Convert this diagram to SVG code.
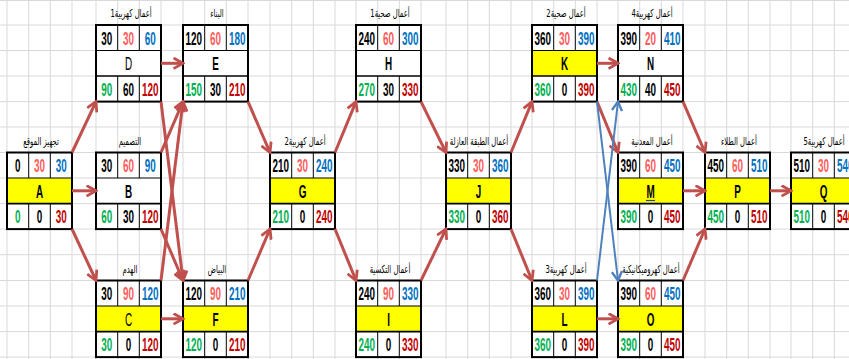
<svg xmlns="http://www.w3.org/2000/svg" width="849" height="359" viewBox="0 0 849 359">
<style>
.grid line{stroke:#d9d9d9;stroke-width:1}
.bx{fill:#fff;stroke:none}
.yl{fill:#ffff00}
.ol{fill:none;stroke:#000;stroke-width:2}
.il{stroke:#000;stroke-width:1}
.tl{stroke:#000;stroke-width:1.6}
text{font-family:"Liberation Sans",Arial,sans-serif;font-size:18px;font-weight:bold;text-anchor:middle}
.t{font-family:"DejaVu Sans","Noto Sans",sans-serif;font-size:11px;font-weight:normal;fill:#000}
.k{fill:#000}.d{fill:#ff5b5b}.e{fill:#0070c0}.g{fill:#00b050}.f{fill:#c00000}
.lt{font-weight:normal}
.cr{stroke:#c0504d;stroke-width:3;fill:none}
.cb{stroke:#4f81bd;stroke-width:2;fill:none}
</style>
<defs>
<marker id="ar" viewBox="0 0 10 10" refX="8.5" refY="5" markerWidth="4.2" markerHeight="4.2" orient="auto" markerUnits="strokeWidth">
<path d="M1,0.8 L8.5,5 L1,9.2" fill="none" stroke="#c0504d" stroke-width="2.2"/>
</marker>
<marker id="ab" viewBox="0 0 10 10" refX="8.5" refY="5" markerWidth="6" markerHeight="6" orient="auto" markerUnits="strokeWidth">
<path d="M1,0.8 L8.5,5 L1,9.2" fill="none" stroke="#4f81bd" stroke-width="2"/>
</marker>
</defs>
<rect x="0" y="0" width="849" height="359" fill="#fff"/>
<g class="grid">
<line x1="0" y1="0.5" x2="849" y2="0.5"/>
<line x1="0" y1="25" x2="849" y2="25"/>
<line x1="0" y1="50.5" x2="849" y2="50.5"/>
<line x1="0" y1="76" x2="849" y2="76"/>
<line x1="0" y1="101.6" x2="849" y2="101.6"/>
<line x1="0" y1="127" x2="849" y2="127"/>
<line x1="0" y1="152.5" x2="849" y2="152.5"/>
<line x1="0" y1="178" x2="849" y2="178"/>
<line x1="0" y1="203.6" x2="849" y2="203.6"/>
<line x1="0" y1="229" x2="849" y2="229"/>
<line x1="0" y1="254.7" x2="849" y2="254.7"/>
<line x1="0" y1="280.5" x2="849" y2="280.5"/>
<line x1="0" y1="306" x2="849" y2="306"/>
<line x1="0" y1="331.6" x2="849" y2="331.6"/>
<line x1="0" y1="357" x2="849" y2="357"/>
<line x1="7" y1="0" x2="7" y2="359"/><line x1="28.7" y1="0" x2="28.7" y2="359"/><line x1="50.3" y1="0" x2="50.3" y2="359"/><line x1="72" y1="0" x2="72" y2="359"/>
<line x1="96" y1="0" x2="96" y2="359"/><line x1="117.7" y1="0" x2="117.7" y2="359"/><line x1="139.3" y1="0" x2="139.3" y2="359"/><line x1="161" y1="0" x2="161" y2="359"/>
<line x1="183" y1="0" x2="183" y2="359"/><line x1="204.7" y1="0" x2="204.7" y2="359"/><line x1="226.3" y1="0" x2="226.3" y2="359"/><line x1="248" y1="0" x2="248" y2="359"/>
<line x1="270" y1="0" x2="270" y2="359"/><line x1="291.7" y1="0" x2="291.7" y2="359"/><line x1="313.3" y1="0" x2="313.3" y2="359"/><line x1="335" y1="0" x2="335" y2="359"/>
<line x1="356" y1="0" x2="356" y2="359"/><line x1="377.7" y1="0" x2="377.7" y2="359"/><line x1="399.3" y1="0" x2="399.3" y2="359"/><line x1="421" y1="0" x2="421" y2="359"/>
<line x1="446" y1="0" x2="446" y2="359"/><line x1="467.7" y1="0" x2="467.7" y2="359"/><line x1="489.3" y1="0" x2="489.3" y2="359"/><line x1="511" y1="0" x2="511" y2="359"/>
<line x1="532" y1="0" x2="532" y2="359"/><line x1="553.7" y1="0" x2="553.7" y2="359"/><line x1="575.3" y1="0" x2="575.3" y2="359"/><line x1="597" y1="0" x2="597" y2="359"/>
<line x1="618" y1="0" x2="618" y2="359"/><line x1="639.7" y1="0" x2="639.7" y2="359"/><line x1="661.3" y1="0" x2="661.3" y2="359"/><line x1="683" y1="0" x2="683" y2="359"/>
<line x1="705" y1="0" x2="705" y2="359"/><line x1="726.7" y1="0" x2="726.7" y2="359"/><line x1="748.3" y1="0" x2="748.3" y2="359"/><line x1="770" y1="0" x2="770" y2="359"/>
<line x1="791" y1="0" x2="791" y2="359"/><line x1="812.7" y1="0" x2="812.7" y2="359"/><line x1="834.3" y1="0" x2="834.3" y2="359"/>
</g>

<g id="node-A">
<rect class="bx" x="7" y="152.5" width="65" height="76.6"/>
<rect class="yl" x="7" y="178" width="65" height="25.6"/>
<line class="il" x1="28.7" y1="152.5" x2="28.7" y2="178"/><line class="il" x1="50.3" y1="152.5" x2="50.3" y2="178"/>
<line class="il" x1="28.7" y1="203.6" x2="28.7" y2="229"/><line class="il" x1="50.3" y1="203.6" x2="50.3" y2="229"/>
<line class="il" x1="7" y1="178" x2="72" y2="178"/><line class="tl" x1="7" y1="203.6" x2="72" y2="203.6"/>
<rect class="ol" x="7" y="152.5" width="65" height="76.6"/>
<text class="t" transform="translate(41,144.5) scale(0.62,1)">تجهيز الموقع</text>
<text class="k" transform="translate(17.8,172) scale(0.55,1)">0</text>
<text class="d" transform="translate(39.5,172) scale(0.55,1)">30</text>
<text class="e" transform="translate(61.2,172) scale(0.55,1)">30</text>
<text class="k" transform="translate(39.5,197.5) scale(0.55,1)">A</text>
<text class="g" transform="translate(17.8,223) scale(0.55,1)">0</text>
<text class="k" transform="translate(39.5,223) scale(0.55,1)">0</text>
<text class="f" transform="translate(61.2,223) scale(0.55,1)">30</text>
</g>

<g id="node-B">
<rect class="bx" x="96" y="152.5" width="65" height="76.6"/>
<line class="il" x1="117.7" y1="152.5" x2="117.7" y2="178"/><line class="il" x1="139.3" y1="152.5" x2="139.3" y2="178"/>
<line class="il" x1="117.7" y1="203.6" x2="117.7" y2="229"/><line class="il" x1="139.3" y1="203.6" x2="139.3" y2="229"/>
<line class="il" x1="96" y1="178" x2="161" y2="178"/><line class="tl" x1="96" y1="203.6" x2="161" y2="203.6"/>
<rect class="ol" x="96" y="152.5" width="65" height="76.6"/>
<text class="t" transform="translate(130,144.5) scale(0.62,1)">التصميم</text>
<text class="k" transform="translate(106.8,172) scale(0.55,1)">30</text>
<text class="d" transform="translate(128.5,172) scale(0.55,1)">60</text>
<text class="e" transform="translate(150.2,172) scale(0.55,1)">90</text>
<text class="k" transform="translate(128.5,197.5) scale(0.55,1)">B</text>
<text class="g" transform="translate(106.8,223) scale(0.55,1)">60</text>
<text class="k" transform="translate(128.5,223) scale(0.55,1)">30</text>
<text class="f" transform="translate(150.2,223) scale(0.55,1)">120</text>
</g>

<g id="node-C">
<rect class="bx" x="96" y="280.5" width="65" height="76.6"/>
<rect class="yl" x="96" y="306" width="65" height="25.6"/>
<line class="il" x1="117.7" y1="280.5" x2="117.7" y2="306"/><line class="il" x1="139.3" y1="280.5" x2="139.3" y2="306"/>
<line class="il" x1="117.7" y1="331.6" x2="117.7" y2="357"/><line class="il" x1="139.3" y1="331.6" x2="139.3" y2="357"/>
<line class="il" x1="96" y1="306" x2="161" y2="306"/><line class="tl" x1="96" y1="331.6" x2="161" y2="331.6"/>
<rect class="ol" x="96" y="280.5" width="65" height="76.6"/>
<text class="t" transform="translate(130,272.5) scale(0.62,1)">الهدم</text>
<text class="k" transform="translate(106.8,300) scale(0.55,1)">30</text>
<text class="d" transform="translate(128.5,300) scale(0.55,1)">90</text>
<text class="e" transform="translate(150.2,300) scale(0.55,1)">120</text>
<text class="k lt" transform="translate(128.5,325.5) scale(0.55,1)">C</text>
<text class="g" transform="translate(106.8,351) scale(0.55,1)">30</text>
<text class="k" transform="translate(128.5,351) scale(0.55,1)">0</text>
<text class="f" transform="translate(150.2,351) scale(0.55,1)">120</text>
</g>

<g id="node-D">
<rect class="bx" x="96" y="25" width="65" height="76.6"/>
<line class="il" x1="117.7" y1="25" x2="117.7" y2="50.5"/><line class="il" x1="139.3" y1="25" x2="139.3" y2="50.5"/>
<line class="il" x1="117.7" y1="76" x2="117.7" y2="101.6"/><line class="il" x1="139.3" y1="76" x2="139.3" y2="101.6"/>
<line class="il" x1="96" y1="50.5" x2="161" y2="50.5"/><line class="tl" x1="96" y1="76" x2="161" y2="76"/>
<rect class="ol" x="96" y="25" width="65" height="76.6"/>
<text class="t" transform="translate(131,17) scale(0.62,1)">أعمال كهربية1</text>
<text class="k" transform="translate(106.8,44.5) scale(0.55,1)">30</text>
<text class="d" transform="translate(128.5,44.5) scale(0.55,1)">30</text>
<text class="e" transform="translate(150.2,44.5) scale(0.55,1)">60</text>
<text class="k lt" transform="translate(128.5,70) scale(0.55,1)">D</text>
<text class="g" transform="translate(106.8,95.5) scale(0.55,1)">90</text>
<text class="k" transform="translate(128.5,95.5) scale(0.55,1)">60</text>
<text class="f" transform="translate(150.2,95.5) scale(0.55,1)">120</text>
</g>

<g id="node-E">
<rect class="bx" x="183" y="25" width="65" height="76.6"/>
<line class="il" x1="204.7" y1="25" x2="204.7" y2="50.5"/><line class="il" x1="226.3" y1="25" x2="226.3" y2="50.5"/>
<line class="il" x1="204.7" y1="76" x2="204.7" y2="101.6"/><line class="il" x1="226.3" y1="76" x2="226.3" y2="101.6"/>
<line class="il" x1="183" y1="50.5" x2="248" y2="50.5"/><line class="tl" x1="183" y1="76" x2="248" y2="76"/>
<rect class="ol" x="183" y="25" width="65" height="76.6"/>
<text class="t" transform="translate(217,17) scale(0.62,1)">البناء</text>
<text class="k" transform="translate(193.8,44.5) scale(0.55,1)">120</text>
<text class="d" transform="translate(215.5,44.5) scale(0.55,1)">60</text>
<text class="e" transform="translate(237.2,44.5) scale(0.55,1)">180</text>
<text class="k" transform="translate(215.5,70) scale(0.55,1)">E</text>
<text class="g" transform="translate(193.8,95.5) scale(0.55,1)">150</text>
<text class="k" transform="translate(215.5,95.5) scale(0.55,1)">30</text>
<text class="f" transform="translate(237.2,95.5) scale(0.55,1)">210</text>
</g>

<g id="node-F">
<rect class="bx" x="183" y="280.5" width="65" height="76.6"/>
<rect class="yl" x="183" y="306" width="65" height="25.6"/>
<line class="il" x1="204.7" y1="280.5" x2="204.7" y2="306"/><line class="il" x1="226.3" y1="280.5" x2="226.3" y2="306"/>
<line class="il" x1="204.7" y1="331.6" x2="204.7" y2="357"/><line class="il" x1="226.3" y1="331.6" x2="226.3" y2="357"/>
<line class="il" x1="183" y1="306" x2="248" y2="306"/><line class="tl" x1="183" y1="331.6" x2="248" y2="331.6"/>
<rect class="ol" x="183" y="280.5" width="65" height="76.6"/>
<text class="t" transform="translate(217,272.5) scale(0.62,1)">البياض</text>
<text class="k" transform="translate(193.8,300) scale(0.55,1)">120</text>
<text class="d" transform="translate(215.5,300) scale(0.55,1)">90</text>
<text class="e" transform="translate(237.2,300) scale(0.55,1)">210</text>
<text class="k" transform="translate(215.5,325.5) scale(0.55,1)">F</text>
<text class="g" transform="translate(193.8,351) scale(0.55,1)">120</text>
<text class="k" transform="translate(215.5,351) scale(0.55,1)">0</text>
<text class="f" transform="translate(237.2,351) scale(0.55,1)">210</text>
</g>

<g id="node-G">
<rect class="bx" x="270" y="152.5" width="65" height="76.6"/>
<rect class="yl" x="270" y="178" width="65" height="25.6"/>
<line class="il" x1="291.7" y1="152.5" x2="291.7" y2="178"/><line class="il" x1="313.3" y1="152.5" x2="313.3" y2="178"/>
<line class="il" x1="291.7" y1="203.6" x2="291.7" y2="229"/><line class="il" x1="313.3" y1="203.6" x2="313.3" y2="229"/>
<line class="il" x1="270" y1="178" x2="335" y2="178"/><line class="tl" x1="270" y1="203.6" x2="335" y2="203.6"/>
<rect class="ol" x="270" y="152.5" width="65" height="76.6"/>
<text class="t" transform="translate(305,144.5) scale(0.62,1)">أعمال كهربية2</text>
<text class="k" transform="translate(280.8,172) scale(0.55,1)">210</text>
<text class="d" transform="translate(302.5,172) scale(0.55,1)">30</text>
<text class="e" transform="translate(324.2,172) scale(0.55,1)">240</text>
<text class="k" transform="translate(302.5,197.5) scale(0.55,1)">G</text>
<text class="g" transform="translate(280.8,223) scale(0.55,1)">210</text>
<text class="k" transform="translate(302.5,223) scale(0.55,1)">0</text>
<text class="f" transform="translate(324.2,223) scale(0.55,1)">240</text>
</g>

<g id="node-H">
<rect class="bx" x="356" y="25" width="65" height="76.6"/>
<line class="il" x1="377.7" y1="25" x2="377.7" y2="50.5"/><line class="il" x1="399.3" y1="25" x2="399.3" y2="50.5"/>
<line class="il" x1="377.7" y1="76" x2="377.7" y2="101.6"/><line class="il" x1="399.3" y1="76" x2="399.3" y2="101.6"/>
<line class="il" x1="356" y1="50.5" x2="421" y2="50.5"/><line class="tl" x1="356" y1="76" x2="421" y2="76"/>
<rect class="ol" x="356" y="25" width="65" height="76.6"/>
<text class="t" transform="translate(390,17) scale(0.62,1)">أعمال صحية1</text>
<text class="k" transform="translate(366.8,44.5) scale(0.55,1)">240</text>
<text class="d" transform="translate(388.5,44.5) scale(0.55,1)">60</text>
<text class="e" transform="translate(410.2,44.5) scale(0.55,1)">300</text>
<text class="k" transform="translate(388.5,70) scale(0.55,1)">H</text>
<text class="g" transform="translate(366.8,95.5) scale(0.55,1)">270</text>
<text class="k" transform="translate(388.5,95.5) scale(0.55,1)">30</text>
<text class="f" transform="translate(410.2,95.5) scale(0.55,1)">330</text>
</g>

<g id="node-I">
<rect class="bx" x="356" y="280.5" width="65" height="76.6"/>
<rect class="yl" x="356" y="306" width="65" height="25.6"/>
<line class="il" x1="377.7" y1="280.5" x2="377.7" y2="306"/><line class="il" x1="399.3" y1="280.5" x2="399.3" y2="306"/>
<line class="il" x1="377.7" y1="331.6" x2="377.7" y2="357"/><line class="il" x1="399.3" y1="331.6" x2="399.3" y2="357"/>
<line class="il" x1="356" y1="306" x2="421" y2="306"/><line class="tl" x1="356" y1="331.6" x2="421" y2="331.6"/>
<rect class="ol" x="356" y="280.5" width="65" height="76.6"/>
<text class="t" transform="translate(390,272.5) scale(0.62,1)">أعمال التكسية</text>
<text class="k" transform="translate(366.8,300) scale(0.55,1)">240</text>
<text class="d" transform="translate(388.5,300) scale(0.55,1)">90</text>
<text class="e" transform="translate(410.2,300) scale(0.55,1)">330</text>
<text class="k" transform="translate(388.5,325.5) scale(0.55,1)">I</text>
<text class="g" transform="translate(366.8,351) scale(0.55,1)">240</text>
<text class="k" transform="translate(388.5,351) scale(0.55,1)">0</text>
<text class="f" transform="translate(410.2,351) scale(0.55,1)">330</text>
</g>

<g id="node-J">
<rect class="bx" x="446" y="152.5" width="65" height="76.6"/>
<rect class="yl" x="446" y="178" width="65" height="25.6"/>
<line class="il" x1="467.7" y1="152.5" x2="467.7" y2="178"/><line class="il" x1="489.3" y1="152.5" x2="489.3" y2="178"/>
<line class="il" x1="467.7" y1="203.6" x2="467.7" y2="229"/><line class="il" x1="489.3" y1="203.6" x2="489.3" y2="229"/>
<line class="il" x1="446" y1="178" x2="511" y2="178"/><line class="tl" x1="446" y1="203.6" x2="511" y2="203.6"/>
<rect class="ol" x="446" y="152.5" width="65" height="76.6"/>
<text class="t" transform="translate(479,144.5) scale(0.62,1)">أعمال الطبقة العازلة</text>
<text class="k" transform="translate(456.8,172) scale(0.55,1)">330</text>
<text class="d" transform="translate(478.5,172) scale(0.55,1)">30</text>
<text class="e" transform="translate(500.2,172) scale(0.55,1)">360</text>
<text class="k" transform="translate(478.5,197.5) scale(0.55,1)">J</text>
<text class="g" transform="translate(456.8,223) scale(0.55,1)">330</text>
<text class="k" transform="translate(478.5,223) scale(0.55,1)">0</text>
<text class="f" transform="translate(500.2,223) scale(0.55,1)">360</text>
</g>

<g id="node-K">
<rect class="bx" x="532" y="25" width="65" height="76.6"/>
<rect class="yl" x="532" y="50.5" width="65" height="25.5"/>
<line class="il" x1="553.7" y1="25" x2="553.7" y2="50.5"/><line class="il" x1="575.3" y1="25" x2="575.3" y2="50.5"/>
<line class="il" x1="553.7" y1="76" x2="553.7" y2="101.6"/><line class="il" x1="575.3" y1="76" x2="575.3" y2="101.6"/>
<line class="il" x1="532" y1="50.5" x2="597" y2="50.5"/><line class="tl" x1="532" y1="76" x2="597" y2="76"/>
<rect class="ol" x="532" y="25" width="65" height="76.6"/>
<text class="t" transform="translate(566,17) scale(0.62,1)">أعمال صحية2</text>
<text class="k" transform="translate(542.8,44.5) scale(0.55,1)">360</text>
<text class="d" transform="translate(564.5,44.5) scale(0.55,1)">30</text>
<text class="e" transform="translate(586.2,44.5) scale(0.55,1)">390</text>
<text class="k" transform="translate(564.5,70) scale(0.55,1)">K</text>
<text class="g" transform="translate(542.8,95.5) scale(0.55,1)">360</text>
<text class="k" transform="translate(564.5,95.5) scale(0.55,1)">0</text>
<text class="f" transform="translate(586.2,95.5) scale(0.55,1)">390</text>
</g>

<g id="node-L">
<rect class="bx" x="532" y="280.5" width="65" height="76.6"/>
<rect class="yl" x="532" y="306" width="65" height="25.6"/>
<line class="il" x1="553.7" y1="280.5" x2="553.7" y2="306"/><line class="il" x1="575.3" y1="280.5" x2="575.3" y2="306"/>
<line class="il" x1="553.7" y1="331.6" x2="553.7" y2="357"/><line class="il" x1="575.3" y1="331.6" x2="575.3" y2="357"/>
<line class="il" x1="532" y1="306" x2="597" y2="306"/><line class="tl" x1="532" y1="331.6" x2="597" y2="331.6"/>
<rect class="ol" x="532" y="280.5" width="65" height="76.6"/>
<text class="t" transform="translate(566,272.5) scale(0.62,1)">أعمال كهربية3</text>
<text class="k" transform="translate(542.8,300) scale(0.55,1)">360</text>
<text class="d" transform="translate(564.5,300) scale(0.55,1)">30</text>
<text class="e" transform="translate(586.2,300) scale(0.55,1)">390</text>
<text class="k" transform="translate(564.5,325.5) scale(0.55,1)">L</text>
<text class="g" transform="translate(542.8,351) scale(0.55,1)">360</text>
<text class="k" transform="translate(564.5,351) scale(0.55,1)">0</text>
<text class="f" transform="translate(586.2,351) scale(0.55,1)">390</text>
</g>

<g id="node-M">
<rect class="bx" x="618" y="152.5" width="65" height="76.6"/>
<rect class="yl" x="618" y="178" width="65" height="25.6"/>
<line class="il" x1="639.7" y1="152.5" x2="639.7" y2="178"/><line class="il" x1="661.3" y1="152.5" x2="661.3" y2="178"/>
<line class="il" x1="639.7" y1="203.6" x2="639.7" y2="229"/><line class="il" x1="661.3" y1="203.6" x2="661.3" y2="229"/>
<line class="il" x1="618" y1="178" x2="683" y2="178"/><line class="tl" x1="618" y1="203.6" x2="683" y2="203.6"/>
<rect class="ol" x="618" y="152.5" width="65" height="76.6"/>
<text class="t" transform="translate(652,144.5) scale(0.62,1)">أعمال المعدنية</text>
<text class="k" transform="translate(628.8,172) scale(0.55,1)">390</text>
<text class="d" transform="translate(650.5,172) scale(0.55,1)">60</text>
<text class="e" transform="translate(672.2,172) scale(0.55,1)">450</text>
<text class="k" transform="translate(650.5,197.5) scale(0.55,1)">M</text>
<line x1="646" y1="200.5" x2="655" y2="200.5" stroke="#1f3fbf" stroke-width="1.2"/>
<text class="g" transform="translate(628.8,223) scale(0.55,1)">390</text>
<text class="k" transform="translate(650.5,223) scale(0.55,1)">0</text>
<text class="f" transform="translate(672.2,223) scale(0.55,1)">450</text>
</g>

<g id="node-N">
<rect class="bx" x="618" y="25" width="65" height="76.6"/>
<line class="il" x1="639.7" y1="25" x2="639.7" y2="50.5"/><line class="il" x1="661.3" y1="25" x2="661.3" y2="50.5"/>
<line class="il" x1="639.7" y1="76" x2="639.7" y2="101.6"/><line class="il" x1="661.3" y1="76" x2="661.3" y2="101.6"/>
<line class="il" x1="618" y1="50.5" x2="683" y2="50.5"/><line class="tl" x1="618" y1="76" x2="683" y2="76"/>
<rect class="ol" x="618" y="25" width="65" height="76.6"/>
<text class="t" transform="translate(652,17) scale(0.62,1)">أعمال كهربية4</text>
<text class="k" transform="translate(628.8,44.5) scale(0.55,1)">390</text>
<text class="d" transform="translate(650.5,44.5) scale(0.55,1)">20</text>
<text class="e" transform="translate(672.2,44.5) scale(0.55,1)">410</text>
<text class="k" transform="translate(650.5,70) scale(0.55,1)">N</text>
<text class="g" transform="translate(628.8,95.5) scale(0.55,1)">430</text>
<text class="k" transform="translate(650.5,95.5) scale(0.55,1)">40</text>
<text class="f" transform="translate(672.2,95.5) scale(0.55,1)">450</text>
</g>

<g id="node-O">
<rect class="bx" x="618" y="280.5" width="65" height="76.6"/>
<rect class="yl" x="618" y="306" width="65" height="25.6"/>
<line class="il" x1="639.7" y1="280.5" x2="639.7" y2="306"/><line class="il" x1="661.3" y1="280.5" x2="661.3" y2="306"/>
<line class="il" x1="639.7" y1="331.6" x2="639.7" y2="357"/><line class="il" x1="661.3" y1="331.6" x2="661.3" y2="357"/>
<line class="il" x1="618" y1="306" x2="683" y2="306"/><line class="tl" x1="618" y1="331.6" x2="683" y2="331.6"/>
<rect class="ol" x="618" y="280.5" width="65" height="76.6"/>
<text class="t" transform="translate(651,272.5) scale(0.62,1)">أعمال كهروميكانيكية</text>
<text class="k" transform="translate(628.8,300) scale(0.55,1)">390</text>
<text class="d" transform="translate(650.5,300) scale(0.55,1)">60</text>
<text class="e" transform="translate(672.2,300) scale(0.55,1)">450</text>
<text class="k" transform="translate(650.5,325.5) scale(0.55,1)">O</text>
<text class="g" transform="translate(628.8,351) scale(0.55,1)">390</text>
<text class="k" transform="translate(650.5,351) scale(0.55,1)">0</text>
<text class="f" transform="translate(672.2,351) scale(0.55,1)">450</text>
</g>

<g id="node-P">
<rect class="bx" x="705" y="152.5" width="65" height="76.6"/>
<rect class="yl" x="705" y="178" width="65" height="25.6"/>
<line class="il" x1="726.7" y1="152.5" x2="726.7" y2="178"/><line class="il" x1="748.3" y1="152.5" x2="748.3" y2="178"/>
<line class="il" x1="726.7" y1="203.6" x2="726.7" y2="229"/><line class="il" x1="748.3" y1="203.6" x2="748.3" y2="229"/>
<line class="il" x1="705" y1="178" x2="770" y2="178"/><line class="tl" x1="705" y1="203.6" x2="770" y2="203.6"/>
<rect class="ol" x="705" y="152.5" width="65" height="76.6"/>
<text class="t" transform="translate(739,144.5) scale(0.62,1)">أعمال الطلاء</text>
<text class="k" transform="translate(715.8,172) scale(0.55,1)">450</text>
<text class="d" transform="translate(737.5,172) scale(0.55,1)">60</text>
<text class="e" transform="translate(759.2,172) scale(0.55,1)">510</text>
<text class="k" transform="translate(737.5,197.5) scale(0.55,1)">P</text>
<text class="g" transform="translate(715.8,223) scale(0.55,1)">450</text>
<text class="k" transform="translate(737.5,223) scale(0.55,1)">0</text>
<text class="f" transform="translate(759.2,223) scale(0.55,1)">510</text>
</g>

<g id="node-Q">
<rect class="bx" x="791" y="152.5" width="65" height="76.6"/>
<rect class="yl" x="791" y="178" width="65" height="25.6"/>
<line class="il" x1="812.7" y1="152.5" x2="812.7" y2="178"/><line class="il" x1="834.3" y1="152.5" x2="834.3" y2="178"/>
<line class="il" x1="812.7" y1="203.6" x2="812.7" y2="229"/><line class="il" x1="834.3" y1="203.6" x2="834.3" y2="229"/>
<line class="il" x1="791" y1="178" x2="856" y2="178"/><line class="tl" x1="791" y1="203.6" x2="856" y2="203.6"/>
<rect class="ol" x="791" y="152.5" width="65" height="76.6"/>
<text class="t" transform="translate(824,144.5) scale(0.62,1)">أعمال كهربية5</text>
<text class="k" transform="translate(801.8,172) scale(0.55,1)">510</text>
<text class="d" transform="translate(823.5,172) scale(0.55,1)">30</text>
<text class="e" transform="translate(845.2,172) scale(0.55,1)">540</text>
<text class="k" transform="translate(823.5,197.5) scale(0.55,1)">Q</text>
<text class="g" transform="translate(801.8,223) scale(0.55,1)">510</text>
<text class="k" transform="translate(823.5,223) scale(0.55,1)">0</text>
<text class="f" transform="translate(845.2,223) scale(0.55,1)">540</text>
</g>

<g id="connectors">
<line class="cr" marker-end="url(#ar)" x1="72" y1="190.8" x2="96" y2="190.8"/>
<line class="cr" marker-end="url(#ar)" x1="72" y1="152.5" x2="96" y2="101.6"/>
<line class="cr" marker-end="url(#ar)" x1="72" y1="229" x2="96" y2="280.5"/>
<line class="cr" marker-end="url(#ar)" x1="161" y1="63.3" x2="183" y2="63.3"/>
<line class="cr" marker-end="url(#ar)" x1="161" y1="152.5" x2="183" y2="101.6"/>
<line class="cr" marker-end="url(#ar)" x1="161" y1="280.5" x2="183" y2="101.6"/>
<line class="cr" marker-end="url(#ar)" x1="161" y1="101.6" x2="183" y2="280.5"/>
<line class="cr" marker-end="url(#ar)" x1="161" y1="229" x2="183" y2="280.5"/>
<line class="cr" marker-end="url(#ar)" x1="161" y1="318.8" x2="183" y2="318.8"/>
<line class="cr" marker-end="url(#ar)" x1="248" y1="101.6" x2="270" y2="152.5"/>
<line class="cr" marker-end="url(#ar)" x1="248" y1="280.5" x2="270" y2="229"/>
<line class="cr" marker-end="url(#ar)" x1="335" y1="152.5" x2="356" y2="101.6"/>
<line class="cr" marker-end="url(#ar)" x1="335" y1="229" x2="356" y2="280.5"/>
<line class="cr" marker-end="url(#ar)" x1="421" y1="101.6" x2="446" y2="152.5"/>
<line class="cr" marker-end="url(#ar)" x1="421" y1="280.5" x2="446" y2="229"/>
<line class="cr" marker-end="url(#ar)" x1="511" y1="152.5" x2="532" y2="101.6"/>
<line class="cr" marker-end="url(#ar)" x1="511" y1="229" x2="532" y2="280.5"/>
<line class="cr" marker-end="url(#ar)" x1="597" y1="63.3" x2="618" y2="63.3"/>
<line class="cr" marker-end="url(#ar)" x1="597" y1="318.8" x2="618" y2="318.8"/>
<line class="cr" marker-end="url(#ar)" x1="597" y1="101.6" x2="618" y2="152.5"/>
<line class="cr" marker-end="url(#ar)" x1="683" y1="101.6" x2="705" y2="152.5"/>
<line class="cr" marker-end="url(#ar)" x1="683" y1="190.8" x2="705" y2="190.8"/>
<line class="cr" marker-end="url(#ar)" x1="683" y1="280.5" x2="705" y2="229"/>
<line class="cr" marker-end="url(#ar)" x1="770" y1="190.8" x2="791" y2="190.8"/>
<line class="cb" marker-end="url(#ab)" x1="597" y1="101.6" x2="618" y2="280.5"/>
<line class="cb" marker-end="url(#ab)" x1="597" y1="280.5" x2="618" y2="101.6"/>
</g>
</svg>
